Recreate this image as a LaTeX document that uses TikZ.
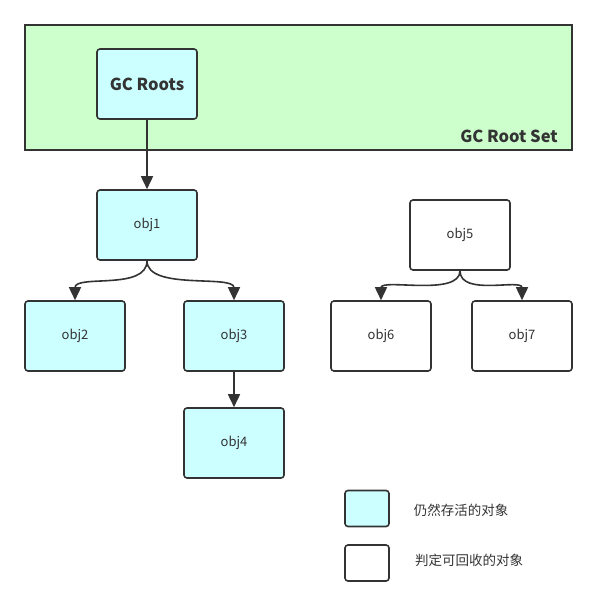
\documentclass[tikz,border=0pt]{standalone}
\usepackage{fontspec}
\setmainfont{Noto Sans CJK SC}
\usetikzlibrary{arrows.meta}

\definecolor{live}{HTML}{CCFFFF}
\definecolor{rootset}{HTML}{CCFFCC}
\definecolor{stroke}{HTML}{333333}
\tikzset{
  obj/.style={rectangle,rounded corners=3pt,draw=stroke,line width=1.6pt,
    minimum width=100pt,minimum height=70pt,text=stroke,
    font=\fontsize{13}{15}\selectfont},
  alive/.style={obj,fill=live},
  dead/.style={obj,fill=white},
  keybox/.style={minimum width=44pt,minimum height=36pt},
  keytext/.style={text=stroke,font=\fontsize{13.5}{16}\selectfont},
  ref/.style={-{Triangle[width=12pt,length=13pt]},line width=1.6pt,draw=stroke},
}

\begin{document}
\begin{tikzpicture}[x=1pt,y=-1pt]
  \useasboundingbox (0,0) rectangle (597,608);
  % root set
  \node [rectangle,draw=stroke,fill=rootset,line width=1.8pt,
    minimum width=547pt,minimum height=125pt] (set) at (298.5,87.5) {};
  \node [text=stroke,font=\fontsize{16.5}{18}\selectfont\bfseries] (setlabel) at (509,136) {GC Root Set};
  \node [alive,font=\fontsize{16.5}{18}\selectfont\bfseries] (roots) at (147,84) {GC Roots};

  % reachable objects
  \node [alive] (obj1) at (147,225) {obj1};
  \node [alive] (obj2) at (75,336) {obj2};
  \node [alive] (obj3) at (234,336) {obj3};
  \node [alive] (obj4) at (234,443) {obj4};

  % unreachable objects
  \node [dead] (obj5) at (460,235) {obj5};
  \node [dead] (obj6) at (381,336) {obj6};
  \node [dead] (obj7) at (522,336) {obj7};

  \draw [ref] (roots) -- (obj1);
  \draw [ref] (obj1.south) .. controls +(0,30) and +(0,-26) .. (obj2.north);
  \draw [ref] (obj1.south) .. controls +(0,30) and +(0,-26) .. (obj3.north);
  \draw [ref] (obj3) -- (obj4);
  \draw [ref] (obj5.south) .. controls +(0,26) and +(0,-22) .. (obj6.north);
  \draw [ref] (obj5.south) .. controls +(0,26) and +(0,-22) .. (obj7.north);

  % legend
  \node [alive,keybox] (keylive) at (367,508.5) {};
  \node [dead,keybox] (keydead) at (367,563) {};
  \node [keytext] (keylivetext) at (461,510) {仍然存活的对象};
  \node [keytext] (keydeadtext) at (469,560) {判定可回收的对象};
\end{tikzpicture}
\end{document}
